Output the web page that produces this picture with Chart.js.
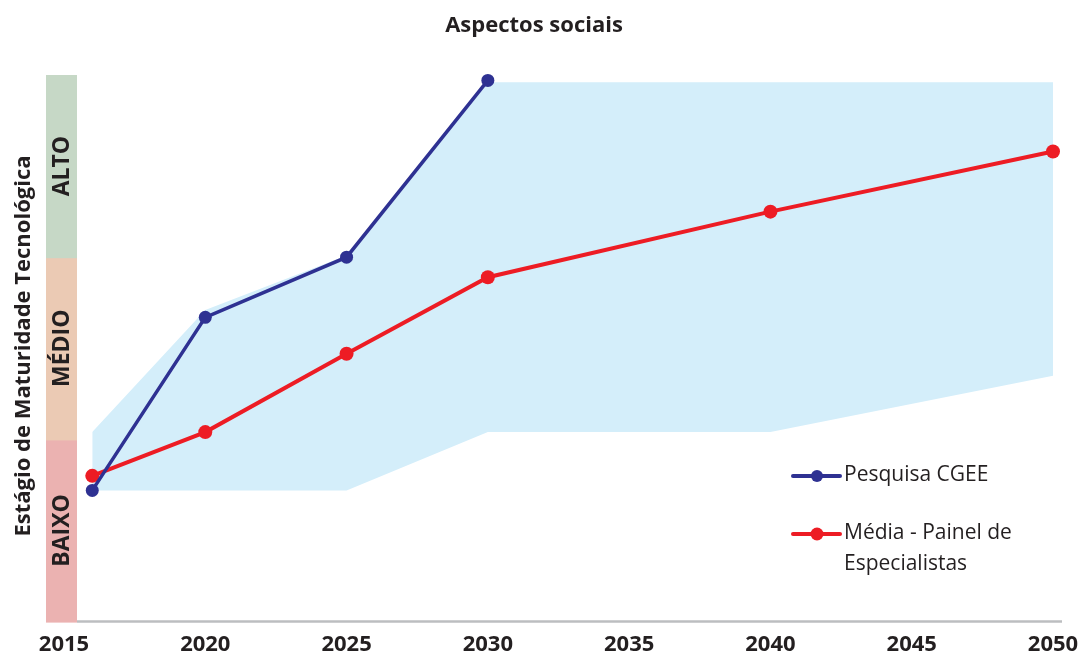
<!DOCTYPE html>
<html>
<head>
<meta charset="utf-8">
<script src="https://cdn.jsdelivr.net/npm/chart.js"></script>
<style>
  html, body { margin: 0; padding: 0; background: #fff; }
  #wrap { width: 1089px; height: 656px; }
</style>
</head>
<body>
<div id="wrap"><canvas id="myChart"></canvas></div>
<script>
  // data
  const chartTitle = 'Aspectos sociais';
  const yTitle = 'Estágio de Maturidade Tecnológica';
  const tickYears = [2015, 2020, 2025, 2030, 2035, 2040, 2045, 2050];
  const levelLabels = ['BAIXO', 'MÉDIO', 'ALTO'];
  const levelColors = ['#ebb2b1', '#ebcab4', '#c6d8c6'];

  const cgeeYears = [2016, 2020, 2025, 2030];
  const cgeeValues = [0.72, 1.67, 2.0, 2.97];

  const panelYears = [2016, 2020, 2025, 2030, 2040, 2050];
  const panelValues = [0.80, 1.04, 1.47, 1.89, 2.25, 2.58];

  const rangeTopYears = [2016, 2020, 2025, 2030, 2050];
  const rangeTopValues = [1.04, 1.71, 2.01, 2.96, 2.96];
  const rangeLowYears = [2016, 2025, 2030, 2040, 2050];
  const rangeLowValues = [0.72, 0.72, 1.04, 1.04, 1.35];

  const seriesNames = ['Pesquisa CGEE', ['Média - Painel de', 'Especialistas']];

  const blue = '#2e3192';
  const red = '#ed1c24';
  const textColor = '#231f20';
  const font = '"Open Sans", sans-serif';

  const pts = (xs, ys) => xs.map((x, i) => ({ x: x, y: ys[i] }));

  const decor = {
    id: 'decor',
    afterDraw(chart) {
      const ctx = chart.ctx;
      const y = chart.scales.y;
      const area = chart.chartArea;
      ctx.save();

      // title
      ctx.fillStyle = textColor;
      ctx.font = 'bold 22px ' + font;
      ctx.textAlign = 'center';
      ctx.textBaseline = 'middle';
      ctx.fillText(chartTitle, 534, 26);

      // level bar
      const barL = 46, barR = 77;
      levelLabels.forEach((lab, i) => {
        const top = y.getPixelForValue(i + 1);
        const bot = y.getPixelForValue(i);
        ctx.fillStyle = levelColors[i];
        ctx.fillRect(barL, top, barR - barL, bot - top + 1);
        ctx.save();
        ctx.translate((barL + barR) / 2 + 1, (top + bot) / 2);
        ctx.rotate(-Math.PI / 2);
        ctx.fillStyle = textColor;
        ctx.font = 'bold 23px ' + font;
        ctx.fillText(lab, 0, 0);
        ctx.restore();
      });

      // y title
      ctx.save();
      ctx.translate(24, 346);
      ctx.rotate(-Math.PI / 2);
      ctx.fillStyle = textColor;
      ctx.font = 'bold 22px ' + font;
      ctx.fillText(yTitle, 0, 0);
      ctx.restore();

      // x axis line
      ctx.strokeStyle = '#bcbec0';
      ctx.lineWidth = 2.5;
      ctx.beginPath();
      ctx.moveTo(barR, area.bottom);
      ctx.lineTo(area.right + 9, area.bottom);
      ctx.stroke();

      // legend
      const items = [
        { color: blue, y: 476, text: seriesNames[0], r: 6 },
        { color: red, y: 534, text: seriesNames[1], r: 6.5 }
      ];
      items.forEach(it => {
        ctx.strokeStyle = it.color;
        ctx.lineWidth = 4;
        ctx.lineCap = 'round';
        ctx.beginPath();
        ctx.moveTo(793, it.y);
        ctx.lineTo(840, it.y);
        ctx.stroke();
        ctx.fillStyle = it.color;
        ctx.beginPath();
        ctx.arc(817, it.y, it.r, 0, Math.PI * 2);
        ctx.fill();
        ctx.fillStyle = textColor;
        ctx.font = '21px ' + font;
        ctx.textAlign = 'left';
        const lines = Array.isArray(it.text) ? it.text : [it.text];
        lines.forEach((l, k) => ctx.fillText(l, 844, it.y - 1 + k * 31));
      });
      ctx.restore();
    }
  };

  new Chart(document.getElementById('myChart'), {
    type: 'line',
    data: {
      datasets: [
        {
          label: 'top',
          data: pts(rangeTopYears, rangeTopValues),
          borderWidth: 0,
          borderColor: 'rgba(0,0,0,0)',
          backgroundColor: '#d4eefa',
          pointRadius: 0,
          fill: { target: 1 }
        },
        {
          label: 'low',
          data: pts(rangeLowYears, rangeLowValues),
          borderWidth: 0,
          borderColor: 'rgba(0,0,0,0)',
          pointRadius: 0,
          fill: false
        },
        {
          label: 'panel',
          data: pts(panelYears, panelValues),
          borderColor: red,
          backgroundColor: red,
          borderWidth: 4,
          pointRadius: 7,
          pointBorderWidth: 0,
          fill: false
        },
        {
          label: 'cgee',
          data: pts(cgeeYears, cgeeValues),
          borderColor: blue,
          backgroundColor: blue,
          borderWidth: 3.5,
          pointRadius: 6.5,
          pointBorderWidth: 0,
          fill: false,
          order: -1
        }
      ]
    },
    options: {
      responsive: true,
      maintainAspectRatio: false,
      animation: false,
      clip: false,
      layout: { padding: { left: 64, right: 36, top: 75, bottom: -12 } },
      elements: { line: { tension: 0 } },
      plugins: {
        legend: { display: false },
        tooltip: { enabled: false },
        filler: { drawTime: 'beforeDatasetsDraw' }
      },
      scales: {
        x: {
          type: 'linear',
          min: 2015,
          max: 2050,
          afterBuildTicks: axis => { axis.ticks = tickYears.map(v => ({ value: v })); },
          grid: { display: false, drawTicks: false },
          border: { display: false },
          ticks: {
            padding: 10,
            color: textColor,
            font: { family: font, size: 22, weight: 'bold' },
            maxRotation: 0,
            callback: v => String(v)
          }
        },
        y: { display: false, min: 0, max: 3 }
      }
    },
    plugins: [decor]
  });
</script>
</body>
</html>
